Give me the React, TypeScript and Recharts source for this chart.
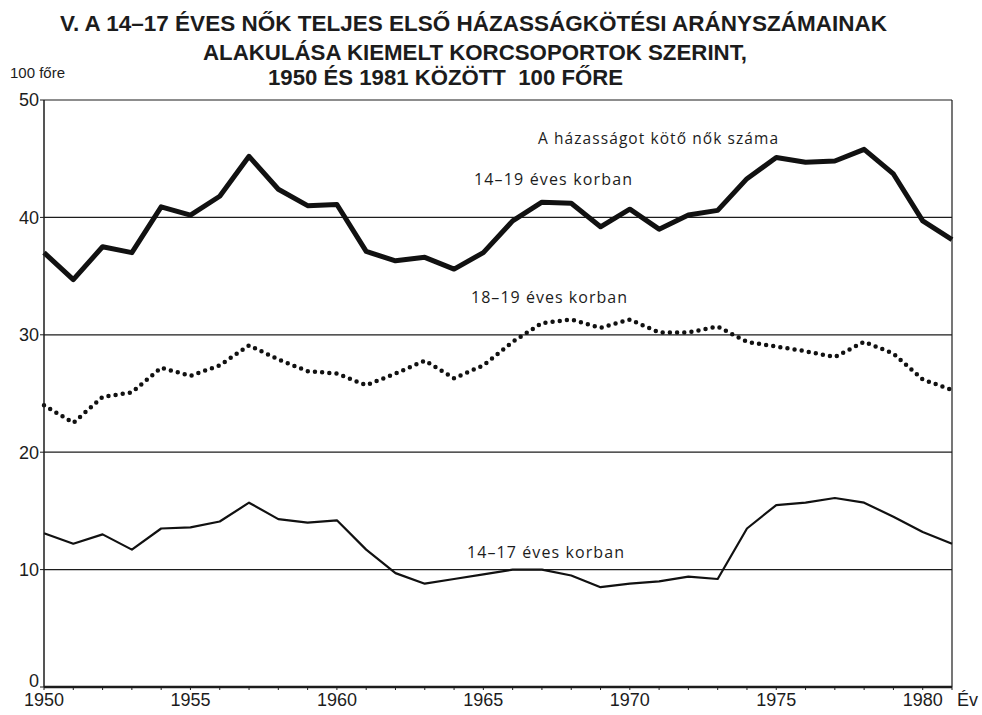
import React from 'react';
import { LineChart, Line, XAxis, YAxis, CartesianGrid, ReferenceLine } from 'recharts';

const years = [
  1950, 1951, 1952, 1953, 1954, 1955, 1956, 1957, 1958, 1959,
  1960, 1961, 1962, 1963, 1964, 1965, 1966, 1967, 1968, 1969,
  1970, 1971, 1972, 1973, 1974, 1975, 1976, 1977, 1978, 1979,
  1980, 1981,
];

// 14–19 éves korban (vastag vonal)
const age1419 = [
  37.0, 34.7, 37.5, 37.0, 40.9, 40.2, 41.8, 45.2, 42.4, 41.0,
  41.1, 37.1, 36.3, 36.6, 35.6, 37.0, 39.7, 41.3, 41.2, 39.2,
  40.7, 39.0, 40.2, 40.6, 43.3, 45.1, 44.7, 44.8, 45.8, 43.7,
  39.7, 38.1,
];

// 18–19 éves korban (pontozott)
const age1819 = [
  24.0, 22.5, 24.7, 25.1, 27.2, 26.5, 27.4, 29.1, 27.9, 26.9,
  26.7, 25.7, 26.7, 27.8, 26.3, 27.4, 29.4, 31.0, 31.3, 30.6,
  31.3, 30.2, 30.2, 30.7, 29.4, 29.0, 28.6, 28.1, 29.4, 28.4,
  26.2, 25.3,
];

// 14–17 éves korban (vékony vonal)
const age1417 = [
  13.1, 12.2, 13.0, 11.7, 13.5, 13.6, 14.1, 15.7, 14.3, 14.0,
  14.2, 11.7, 9.7, 8.8, 9.2, 9.6, 10.0, 10.0, 9.5, 8.5,
  8.8, 9.0, 9.4, 9.2, 13.5, 15.5, 15.7, 16.1, 15.7, 14.5,
  13.2, 12.2,
];

const yTicks = [0, 10, 20, 30, 40, 50];
const labelledYears = [1950, 1955, 1960, 1965, 1970, 1975, 1980];

const titleLines = [
  'V. A 14–17 ÉVES NŐK TELJES ELSŐ HÁZASSÁGKÖTÉSI ARÁNYSZÁMAINAK',
  'ALAKULÁSA KIEMELT KORCSOPORTOK SZERINT,',
  '1950 ÉS 1981 KÖZÖTT  100 FŐRE',
];

const data = years.map((year, i) => ({
  year,
  a1419: age1419[i],
  a1819: age1819[i],
  a1417: age1417[i],
}));

const ink = '#1c1c1c';
const sans = '"Liberation Sans", Arial, sans-serif';
const tickFont = { fontFamily: sans, fontSize: 18, fill: ink };
const noteFont = '"Open Sans", "Noto Sans", sans-serif';

const W = 982;
const H = 715;

// the 0 label sits above the baseline in the original, the others are centred on their line
const YTick = (props: any) => {
  const { x, y, payload } = props;
  const lift = payload.value === 0 ? -6 : 0;
  return (
    <text x={x} y={y + lift} dy="0.355em" textAnchor="end" fontFamily={sans} fontSize={18} fill={ink}>
      {payload.value}
    </text>
  );
};

export default function App() {
  return (
    <div style={{ position: 'absolute', left: 0, top: 0, width: W, height: H, background: '#fff' }}>
      <LineChart width={W} height={H} data={data} margin={{ top: 100, right: 30, left: 0, bottom: 0 }}>
        <CartesianGrid vertical={false} stroke={ink} strokeWidth={1.2} />
        <XAxis
          dataKey="year"
          type="number"
          domain={[1950, 1981]}
          ticks={years}
          interval={0}
          height={28}
          tickSize={3}
          tickMargin={3}
          tick={tickFont}
          tickLine={{ stroke: ink }}
          axisLine={{ stroke: ink, strokeWidth: 2.5 }}
          tickFormatter={(v: number) => (labelledYears.includes(v) ? String(v) : '')}
        />
        <YAxis
          domain={[0, 50]}
          ticks={yTicks}
          width={44}
          tickSize={4}
          tickMargin={1}
          tick={<YTick />}
          tickLine={{ stroke: ink }}
          axisLine={{ stroke: ink, strokeWidth: 1.5 }}
        />
        <ReferenceLine x={1981} stroke={ink} strokeWidth={1.2} />
        <Line
          dataKey="a1419"
          type="linear"
          stroke="#111"
          strokeWidth={5}
          strokeLinejoin="round"
          dot={false}
          isAnimationActive={false}
        />
        <Line
          dataKey="a1819"
          type="linear"
          stroke="#111"
          strokeWidth={4.5}
          strokeDasharray="0 7.2"
          strokeLinecap="round"
          dot={false}
          isAnimationActive={false}
        />
        <Line
          dataKey="a1417"
          type="linear"
          stroke="#111"
          strokeWidth={2.2}
          strokeLinejoin="round"
          dot={false}
          isAnimationActive={false}
        />
      </LineChart>
      <svg
        width={W}
        height={H}
        style={{ position: 'absolute', left: 0, top: 0, pointerEvents: 'none' }}
      >
        <g fontFamily={sans} fontWeight="bold" fontSize={22} fill={ink}>
          <text x={60} y={31} textLength={827} lengthAdjust="spacingAndGlyphs">{titleLines[0]}</text>
          <text x={203} y={60} textLength={544} lengthAdjust="spacingAndGlyphs">{titleLines[1]}</text>
          <text x={268} y={85} textLength={355} lengthAdjust="spacingAndGlyphs" style={{ whiteSpace: 'pre' }}>{titleLines[2]}</text>
        </g>
        <text x={10} y={78} fontFamily={sans} fontSize={15} fill={ink}>100 főre</text>
        <text x={957} y={706} fontFamily={sans} fontSize={18} fill={ink}>Év</text>
        <g fontFamily={noteFont} fontSize={16} fill={ink}>
          <text x={538} y={144} fontSize={15.5} textLength={240}>A házasságot kötő nők száma</text>
          <text x={474} y={185} textLength={158}>14–19 éves korban</text>
          <text x={471} y={303} textLength={156}>18–19 éves korban</text>
          <text x={467} y={558} textLength={157}>14–17 éves korban</text>
        </g>
      </svg>
    </div>
  );
}
